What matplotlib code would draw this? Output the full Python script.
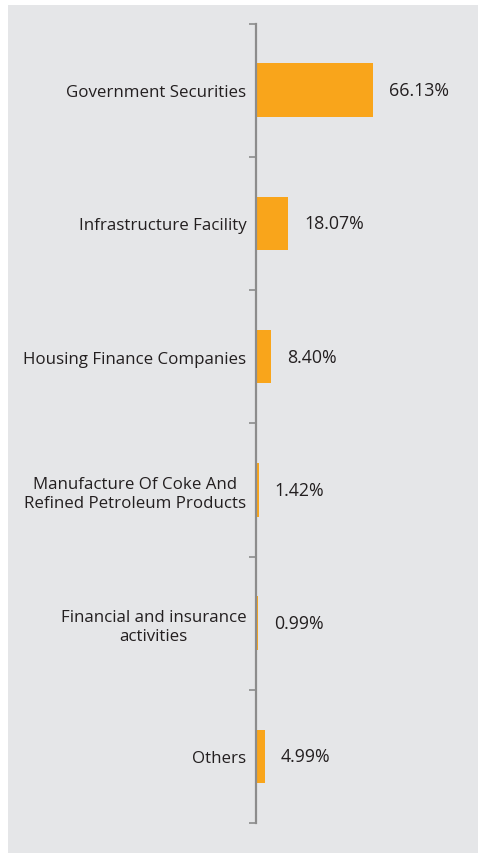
import matplotlib.pyplot as plt
from matplotlib.patches import Rectangle
from matplotlib.ticker import FixedLocator

sectors = [
    "Government Securities",
    "Infrastructure Facility",
    "Housing Finance Companies",
    "Manufacture Of Coke And\nRefined Petroleum Products",
    "Financial and insurance\nactivities",
    "Others",
]
weights = [66.13, 18.07, 8.40, 1.42, 0.99, 4.99]

bar_color = "#f9a51b"
panel_color = "#e5e6e8"
text_color = "#231f20"
axis_color = "#8c8c8c"

plt.rcParams["font.family"] = ["Open Sans", "DejaVu Sans"]

W, H = 481, 854
fig = plt.figure(figsize=(W / 100, H / 100), dpi=100, facecolor="white")

# grey panel behind the chart
fig.patches.append(Rectangle((8 / W, 0), 470 / W, 848 / H, transform=fig.transFigure,
                             facecolor=panel_color, edgecolor="none", zorder=-10))

ax = fig.add_axes([256 / W, 30 / H, 214 / W, 799.5 / H])
ax.set_facecolor("none")
ax.set_zorder(1)

pos = list(range(len(sectors)))
ax.barh(pos, weights, height=0.4, color=bar_color, zorder=2)
ax.set_ylim(len(sectors) - 0.5, -0.5)
ax.set_xlim(0, 214 / 1.769)

for y, v in zip(pos, weights):
    ax.annotate(f"{v:.2f}%", (v, y), xytext=(11.5, 0), textcoords="offset points",
                ha="left", va="center", fontsize=12.8, color=text_color)

ax.set_yticks(pos)
ax.set_yticklabels(sectors, fontsize=12.2, color=text_color, multialignment="center",
                   linespacing=1.25)
ax.tick_params(axis="y", which="major", length=0, pad=7)
ax.yaxis.set_minor_locator(FixedLocator([p - 0.5 for p in pos] + [len(sectors) - 0.5]))
ax.tick_params(axis="y", which="minor", length=5, width=1.2, color=axis_color, direction="out")
ax.set_xticks([])

for s in ["top", "right", "bottom"]:
    ax.spines[s].set_visible(False)
ax.spines["left"].set_color(axis_color)
ax.spines["left"].set_linewidth(1.6)

fig.savefig("out.png", dpi=100, facecolor="white")
